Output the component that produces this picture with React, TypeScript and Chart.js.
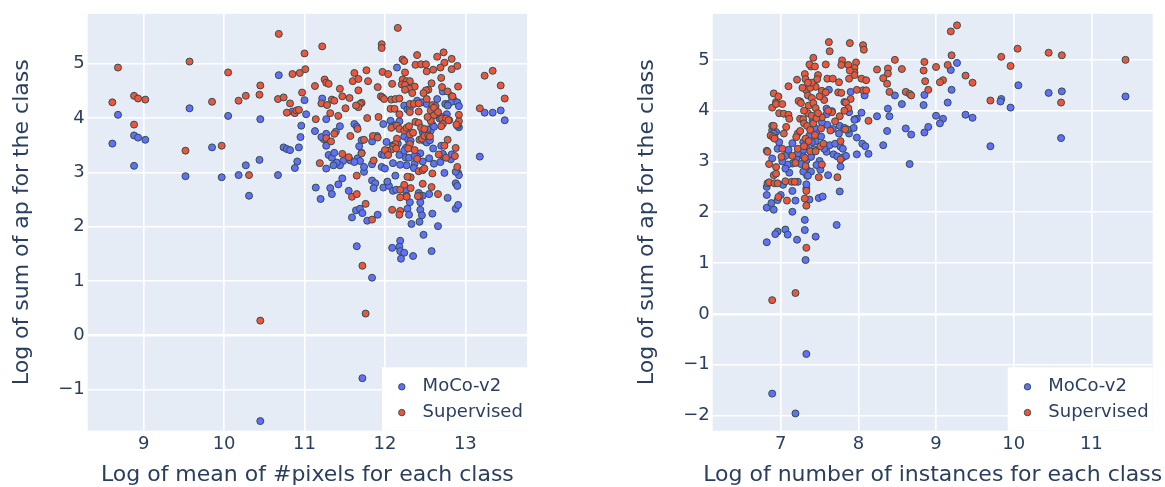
import React, { useEffect, useRef } from 'react';
import { Chart, registerables } from 'chart.js';
Chart.register(...registerables);

const FONT = "'DejaVu Sans', Verdana, sans-serif";
const TEXT = '#2a3f5f';
const BLUE = '#636efa';
const RED = '#ef553b';
const EDGE = '#2f4f4f';
const BG = '#e5ecf6';

const seriesNames = ['MoCo-v2', 'Supervised'];
const pixelXTicks = [9, 10, 11, 12, 13];
const pixelYTicks = [-1, 0, 1, 2, 3, 4, 5];
const instXTicks = [7, 8, 9, 10, 11];
const instYTicks = [-2, -1, 0, 1, 2, 3, 4, 5];
const pixelXTitle = 'Log of mean of #pixels for each class';
const instXTitle = 'Log of number of instances for each class';
const yTitle = 'Log of sum of ap for the class';

// left panel: [log mean #pixels, log sum ap]
const pixelsMoco: number[][] = [
  [8.61,3.53],[8.68,4.06],[8.88,3.68],[8.93,3.64],[9.02,3.60],[8.88,3.12],[9.57,4.18],[9.52,2.93],[9.85,3.46],[9.97,2.91],
  [10.05,4.04],[10.18,2.95],[10.27,3.13],[10.31,2.57],[10.45,3.98],[10.44,3.23],[10.68,4.79],[10.67,2.95],[11.0,4.33],[11.02,4.07],
  [10.85,4.12],[10.96,3.86],[10.95,3.65],[10.74,3.46],[10.78,3.43],[10.82,3.41],[10.93,3.46],[10.91,3.20],[10.88,3.08],[11.13,3.76],
  [11.14,2.72],[10.45,-1.58],
  [11.22,4.36],[11.20,2.51],[11.32,2.71],[11.34,2.60],[11.42,2.78],[11.47,2.89],[11.55,2.66],[11.59,2.17],[11.64,2.30],[11.69,2.33],
  [11.72,2.25],[11.78,2.11],[11.91,2.22],[11.84,2.85],[11.88,2.80],[11.86,2.71],[11.96,3.10],[12.0,3.07],[11.98,2.72],[12.05,2.75],
  [12.03,2.83],[12.13,2.94],[12.10,2.66],[12.14,2.68],[12.26,2.66],[12.27,2.57],[12.31,2.45],[12.28,2.33],[12.30,2.22],[12.44,2.45],
  [12.42,2.62],[12.47,2.57],[12.44,2.31],[12.46,2.21],[12.59,2.24],[12.55,2.60],[12.78,2.53],[12.88,2.80],[12.90,2.75],[12.91,2.99],
  [12.92,2.95],[12.88,3.01],[12.74,2.99],[12.61,3.16],[12.69,3.19],[12.72,3.33],[12.73,3.29],[12.47,3.20],[12.37,3.16],[12.36,3.08],
  [12.26,3.27],[12.30,3.27],[12.27,3.13],[12.19,3.14],[12.10,3.17],[12.18,3.32],[11.96,3.33],[11.84,3.15],[11.74,3.01],[11.74,3.10],
  [11.66,3.26],[11.69,3.21],[11.57,3.22],[11.62,3.19],[11.48,3.21],[11.44,3.13],[11.40,3.18],[11.36,3.13],[11.30,3.32],[11.34,3.27],
  [11.37,3.36],[11.27,3.07],[11.27,3.49],[11.24,3.61],[11.21,3.65],[11.27,3.71],[11.39,3.75],[11.44,3.85],[11.27,3.98],[11.62,3.89],
  [11.65,3.84],[11.71,3.59],[11.68,3.48],[11.71,3.36],[11.84,3.57],[11.90,3.67],[11.98,3.89],[12.07,3.95],[12.09,3.85],[12.13,3.87],
  [12.18,3.94],[12.24,3.66],[12.29,3.60],[12.32,3.58],[12.30,3.50],[12.26,3.45],[12.24,3.40],[12.16,3.53],[12.10,3.50],[12.02,3.56],
  [11.99,3.32],[12.49,3.58],[12.52,3.55],[12.56,3.59],[12.44,3.35],[12.40,3.29],[12.37,3.30],[12.54,3.73],[12.57,3.77],[12.60,3.44],
  [12.70,3.49],[12.55,3.26],[12.72,3.34],[12.82,3.24],[12.83,3.33],[12.24,4.23],[12.28,4.16],[12.31,4.18],[12.40,4.32],[12.46,4.29],
  [12.52,4.26],[12.65,4.35],[12.72,4.49],[12.75,4.26],[12.79,4.26],[12.83,4.40],[12.85,4.34],[12.83,4.30],[12.90,4.29],[12.92,4.22],
  [12.77,4.07],[12.80,3.96],[12.92,3.83],[12.90,3.86],[12.78,4.23],[12.71,4.02],[12.68,3.99],[12.62,4.05],[12.59,3.88],[12.61,3.84],
  [12.47,3.74],[12.53,3.79],[12.50,3.71],[12.15,4.93],[13.24,4.10],[13.34,4.10],[13.44,4.14],[13.49,3.96],[13.18,3.29],
  [12.43,2.09],[12.33,2.05],[12.66,2.01],[12.88,2.33],[12.91,2.40],[11.65,1.64],[12.09,1.61],[12.19,1.74],[12.18,1.63],[12.19,1.55],
  [12.24,1.52],[12.20,1.41],[12.35,1.46],[12.48,1.85],[12.58,1.55],[11.84,1.06],[11.72,-0.79],
];

const pixelsSup: number[][] = [
  [8.61,4.29],[8.68,4.93],[8.88,4.41],[8.93,4.36],[9.02,4.34],[8.88,3.88],[9.57,5.04],[9.52,3.40],[9.85,4.30],[9.97,3.49],
  [10.05,4.84],[10.18,4.32],[10.27,4.41],[10.31,2.95],[10.45,4.60],[10.44,4.43],[10.68,5.55],[10.67,4.35],[10.74,4.38],[10.82,4.27],
  [10.78,4.10],[10.85,4.81],[10.94,4.83],[11.01,4.90],[11.0,5.19],[10.97,4.47],[10.88,4.09],[10.90,4.14],[10.93,4.15],[11.13,4.59],
  [11.14,3.98],[11.19,3.17],[10.45,0.27],
  [11.22,5.32],[12.16,5.66],[11.96,5.36],[11.96,5.29],[12.40,5.16],[12.22,5.08],[12.24,5.05],[12.65,5.13],[12.73,5.21],[12.83,5.09],
  [12.74,5.02],[12.90,4.96],[12.83,4.90],[12.38,4.98],[12.45,4.99],[12.51,4.99],[12.52,4.86],[12.60,4.89],[12.69,4.93],[12.25,4.84],
  [11.77,4.88],[11.62,4.83],[11.97,4.85],[12.04,4.81],[11.60,4.68],[11.67,4.72],[11.79,4.68],[12.09,4.63],[12.22,4.71],[12.27,4.68],
  [12.31,4.68],[12.21,4.62],[12.25,4.61],[12.37,4.58],[12.30,4.54],[12.25,4.52],[12.34,4.46],[12.58,4.64],[12.54,4.52],[12.51,4.51],
  [12.48,4.46],[12.70,4.74],[12.71,4.57],[12.78,4.49],[12.84,4.40],[12.91,4.58],[11.25,4.71],[11.27,4.65],[11.30,4.63],[11.44,4.54],
  [11.67,4.51],[11.91,4.57],[11.47,4.40],[11.56,4.37],[11.34,4.34],[11.37,4.32],[11.21,4.27],[11.28,4.24],[11.95,4.40],[11.97,4.38],
  [11.99,4.35],[12.08,4.34],[12.13,4.35],[12.18,4.36],[12.31,4.26],[12.36,4.26],[12.42,4.27],[12.52,4.35],[12.59,4.24],[12.63,4.22],
  [11.71,4.28],[11.69,4.26],[11.67,4.20],[11.64,4.23],[11.51,4.18],[11.32,4.09],[11.42,4.04],[11.78,4.00],[11.92,4.02],[12.07,4.17],
  [12.12,4.17],[12.18,4.07],[12.31,4.11],[12.42,4.12],[12.57,4.14],[12.61,4.19],[12.61,4.05],[12.66,4.11],[12.57,3.95],[12.53,4.02],
  [12.71,3.99],[12.76,3.99],[12.92,4.06],[12.92,3.94],[12.89,3.88],[12.79,3.96],[12.72,3.89],[12.70,3.85],[12.08,3.82],[12.15,3.86],
  [12.18,3.80],[12.24,3.77],[12.27,3.82],[12.30,3.85],[12.38,3.93],[12.42,3.91],[12.45,3.82],[12.49,3.80],[11.57,3.67],[11.66,3.80],
  [11.27,3.63],[11.33,3.57],[11.37,3.71],[11.74,3.60],[11.85,3.67],[11.91,3.64],[12.15,3.62],[12.31,3.70],[12.35,3.73],[12.31,3.52],
  [12.29,3.44],[12.13,3.52],[12.10,3.47],[12.08,3.42],[12.03,3.40],[12.0,3.41],[12.04,3.32],[12.14,3.44],[12.37,3.41],[12.43,3.60],
  [12.46,3.62],[12.49,3.67],[12.54,3.68],[12.56,3.66],[12.78,3.60],[12.74,3.49],[12.88,3.45],[12.87,3.30],[12.76,3.27],[12.67,3.33],
  [11.47,3.34],[11.55,3.28],[11.71,3.35],[11.86,3.22],[12.40,3.25],[12.32,2.91],[12.28,2.92],[12.42,3.02],[12.47,3.04],[12.49,3.07],
  [12.59,2.98],[12.90,3.10],[11.65,2.94],[12.47,2.79],[12.58,2.73],[12.19,2.68],[12.24,2.77],[12.32,2.71],[12.27,2.55],[12.19,2.54],
  [12.43,2.57],[12.41,2.56],[12.66,2.60],[11.59,2.55],[11.65,2.60],[11.76,2.42],[12.09,2.31],[12.19,2.29],[12.18,2.22],[11.84,2.13],
  [11.72,1.28],[11.76,0.40],[13.24,4.78],[13.34,4.87],[13.44,4.60],[13.49,4.36],[13.18,4.18],
];

// right panel: [log number of instances, log sum ap]
const instMoco: number[][] = [
  [11.44,4.28],[10.62,4.38],[10.61,3.46],[10.45,4.35],[10.06,4.50],[9.96,4.06],[9.84,4.23],[9.83,4.18],[9.70,3.30],[9.38,3.92],
  [9.47,3.86],[9.27,4.94],[9.19,4.80],[9.20,4.41],[9.15,4.16],[9.0,3.90],[9.09,3.84],[9.05,3.75],[8.85,4.31],[8.84,4.11],
  [8.85,3.57],[8.90,3.68],[8.61,3.65],[8.68,3.53],[8.66,2.95],[8.47,4.30],[8.56,4.13],[8.24,3.89],[8.38,4.04],[8.40,3.89],
  [8.37,3.60],[8.32,3.32],[8.13,3.15],[8.08,4.30],[8.04,3.96],[7.98,3.84],[7.95,3.83],[8.05,3.35],[8.09,3.30],[7.98,3.14],
  [6.82,1.41],[6.89,-1.57],[7.19,-1.96],[7.33,-0.79],[7.32,1.06],[7.31,1.65],[7.31,1.85],[7.45,1.52],[6.96,1.62],[6.93,1.57],
  [7.06,1.66],[7.09,1.56],[7.21,1.46],[7.15,2.01],[6.91,2.05],[6.82,2.09],[6.88,2.18],[6.96,2.24],[7.0,2.34],[6.82,2.34],
  [6.82,2.50],[7.19,2.23],[7.15,2.42],[7.22,2.60],[7.37,2.25],[7.49,2.28],[7.54,2.31],[7.33,2.47],[7.33,2.55],[7.34,2.72],
  [7.34,2.83],[7.76,2.41],[7.72,1.75],[7.61,2.73],[7.77,2.90],[7.51,2.84],[7.59,3.19],[7.68,3.14],[7.73,3.10],[7.80,3.08],
  [7.84,3.11],[7.77,3.29],[7.80,3.25],[7.63,3.32],[7.56,3.25],[7.88,3.55],[7.94,3.66],[7.95,3.82],[7.98,3.47],[7.88,3.97],
  [7.82,4.17],[7.90,4.37],[7.76,3.70],[7.75,3.55],[7.62,4.41],[7.59,4.04],[7.60,3.72],[7.46,3.60],[7.52,3.49],[7.45,3.40],
  [7.43,3.24],[7.40,3.16],[7.50,3.01],[7.46,2.93],[7.39,2.80],[7.29,2.80],[7.35,2.72],[7.33,3.02],[7.26,2.95],[7.20,3.06],
  [7.15,2.96],[7.09,2.94],[7.11,2.78],[7.06,2.86],[7.06,3.11],[7.02,3.0],[6.96,3.25],[6.98,3.38],[6.92,3.48],[6.94,3.58],
  [6.89,3.61],[6.91,3.55],[6.89,3.06],[7.03,2.54],[7.25,4.18],[7.37,3.51],[7.40,3.38],[7.44,3.66],[7.41,3.81],[7.53,3.77],
  [7.59,3.93],[7.66,3.99],[7.82,3.66],[7.86,3.63],[7.67,3.64],[7.70,3.35],[7.29,3.38],[7.34,3.25],[7.29,3.22],[7.39,3.09],
  [7.29,3.10],[7.15,3.36],[7.22,3.16],[7.10,3.23],
];

const instSup: number[][] = [
  [11.44,5.0],[10.62,5.09],[10.61,4.16],[10.45,5.14],[10.05,5.22],[9.96,4.88],[9.84,5.06],[9.70,4.20],[9.38,4.69],[9.47,4.55],
  [9.27,5.68],[9.19,5.56],[9.20,5.09],[9.15,4.90],[9.09,4.60],[9.05,4.56],[9.0,4.86],[8.85,4.96],[8.84,4.79],[8.86,4.58],
  [8.90,4.41],[8.61,4.37],[8.66,4.33],[8.68,4.30],[8.47,5.0],[8.56,4.82],[8.24,4.81],[8.38,4.83],[8.38,4.73],[8.37,4.53],
  [8.40,4.37],[8.32,4.64],[8.06,5.29],[8.07,5.20],[7.97,4.95],[7.95,4.84],[7.95,4.75],[7.95,4.70],[8.04,4.63],[8.10,4.60],
  [8.06,4.40],[8.10,4.40],[7.98,4.41],[8.13,3.80],[7.89,5.33],[7.62,5.35],[7.63,5.17],[7.58,4.91],[7.79,4.99],[7.78,4.90],
  [7.87,4.90],[7.89,4.79],[7.88,4.63],[7.60,4.63],[7.67,4.63],[7.75,4.56],[7.74,4.36],[7.78,4.35],[7.90,4.23],[7.84,4.16],
  [7.87,4.05],[7.82,4.0],[7.76,3.89],[7.70,3.79],[7.66,3.97],[7.61,4.0],[7.83,3.63],[7.77,3.40],[7.77,3.04],[7.73,2.69],
  [7.64,3.61],[7.53,3.87],[7.56,4.21],[7.53,4.39],[7.58,4.36],[7.51,3.30],[7.53,2.94],[7.49,2.69],[7.48,4.70],[7.47,4.62],
  [7.45,4.47],[7.42,5.04],[7.39,4.87],[7.37,4.91],[7.44,4.87],[7.31,4.72],[7.32,4.62],[7.21,4.61],[7.10,4.48],[7.23,4.19],
  [7.26,4.15],[7.25,3.84],[7.29,3.83],[7.22,3.55],[7.20,3.48],[7.22,3.25],[7.15,3.11],[7.19,2.97],[7.14,2.60],[7.18,2.60],
  [7.08,2.23],[6.91,4.34],[6.94,4.17],[6.97,4.28],[6.89,4.06],[6.94,4.13],[7.02,4.13],[6.98,3.95],[7.04,3.94],[7.10,3.92],
  [7.11,3.84],[6.89,3.70],[6.91,3.70],[7.07,3.68],[7.04,3.55],[6.87,3.51],[6.90,3.48],[6.92,3.45],[6.82,3.21],[6.83,3.19],
  [6.85,2.95],[6.94,2.89],[6.91,2.73],[6.94,2.76],[6.83,2.57],[6.85,2.59],[6.92,2.57],[6.96,2.57],[7.01,3.09],[7.02,3.25],
  [7.06,2.61],[6.97,2.30],[6.89,0.27],[7.19,0.41],[7.33,1.30],[7.31,2.27],[7.33,2.13],[7.33,2.42],[7.32,2.91],[7.31,3.07],
  [7.33,4.40],[7.35,4.30],[7.38,4.45],[7.40,4.25],[7.36,4.10],[7.42,4.15],[7.45,4.05],[7.35,3.95],[7.40,3.90],[7.30,3.75],
  [7.34,3.70],[7.38,3.62],[7.42,3.75],[7.46,3.85],[7.32,3.45],[7.36,3.40],[7.30,3.30],[7.44,3.52],[7.48,3.95],[7.50,4.28],
  [7.52,3.65],[7.40,4.55],[7.35,4.55],[7.28,4.45],[7.30,4.00],[7.25,3.60],[7.38,3.20],[7.45,3.20],[7.55,3.35],
];

const fmt = (v: number | string) => {
  const n = Number(v);
  return n < 0 ? '\u2212' + Math.abs(n) : String(n);
};

type Geo = {
  canvasLeft: number; width: number;
  xMin: number; xMax: number; yMin: number; yMax: number;
  yScaleWidth: number; padRight: number; yTitlePad: number;
};

function makeOverlay(xTitle: string) {
  return {
    id: 'overlay',
    beforeDraw(chart: any) {
      const { ctx, chartArea: a } = chart;
      ctx.save();
      ctx.fillStyle = BG;
      ctx.fillRect(a.left, a.top, a.right - a.left, a.bottom - a.top);
      ctx.restore();
    },
    afterDraw(chart: any) {
      const { ctx, chartArea: a } = chart;
      ctx.save();
      // legend box
      const bx = a.right - 145;
      const by = 367.3;
      ctx.fillStyle = '#ffffff';
      ctx.fillRect(bx, by, a.right - bx, a.bottom - by);
      const cols = [BLUE, RED];
      chart.data.datasets.forEach((ds: any, i: number) => {
        const cy = by + 19.5 + i * 25.8;
        ctx.beginPath();
        ctx.arc(bx + 19.8, cy, 3.2, 0, Math.PI * 2);
        ctx.fillStyle = cols[i];
        ctx.fill();
        ctx.lineWidth = 1;
        ctx.strokeStyle = EDGE;
        ctx.stroke();
        ctx.fillStyle = TEXT;
        ctx.font = `18px ${FONT}`;
        ctx.textAlign = 'left';
        ctx.textBaseline = 'middle';
        ctx.fillText(ds.label, bx + 40.6, cy);
      });
      // x axis title
      ctx.fillStyle = TEXT;
      ctx.font = `22px ${FONT}`;
      ctx.textAlign = 'center';
      ctx.textBaseline = 'middle';
      ctx.fillText(xTitle, (a.left + a.right) / 2, 475.7);
      ctx.restore();
    },
  };
}

function Panel(props: { geo: Geo; moco: number[][]; sup: number[][]; xTicks: number[]; yTicks: number[]; xTitle: string }) {
  const { geo, moco, sup, xTicks, yTicks, xTitle } = props;
  const ref = useRef<HTMLCanvasElement>(null);
  useEffect(() => {
    const gridWidth = (c: any) => (c.tick && c.tick.value === 0 ? 2.6 : 1.6);
    const chart = new Chart(ref.current as HTMLCanvasElement, {
      type: 'scatter',
      data: {
        datasets: [
          {
            label: seriesNames[0],
            data: moco.map(([x, y]) => ({ x, y })),
            backgroundColor: BLUE, borderColor: EDGE, borderWidth: 1, pointRadius: 3.5, order: 1,
          },
          {
            label: seriesNames[1],
            data: sup.map(([x, y]) => ({ x, y })),
            backgroundColor: RED, borderColor: EDGE, borderWidth: 1, pointRadius: 3.5, order: 0,
          },
        ],
      },
      options: {
        responsive: false,
        animation: false,
        events: [],
        layout: { padding: { left: 0, top: 11, right: geo.padRight, bottom: 0 } },
        plugins: { legend: { display: false }, tooltip: { enabled: false } },
        scales: {
          x: {
            type: 'linear', position: 'bottom', min: geo.xMin, max: geo.xMax,
            afterFit: (s: any) => { s.height = 56.3; },
            afterBuildTicks: (s: any) => { s.ticks = xTicks.map((v) => ({ value: v })); },
            grid: { color: '#ffffff', lineWidth: gridWidth, drawTicks: false },
            border: { display: false },
            ticks: { color: TEXT, font: { family: FONT, size: 18 }, padding: 3, autoSkip: false, maxRotation: 0, callback: fmt },
          },
          y: {
            type: 'linear', position: 'left', min: geo.yMin, max: geo.yMax,
            afterFit: (s: any) => { s.width = geo.yScaleWidth; },
            afterBuildTicks: (s: any) => { s.ticks = yTicks.map((v) => ({ value: v })); },
            grid: { color: '#ffffff', lineWidth: gridWidth, drawTicks: false },
            border: { display: false },
            ticks: { color: TEXT, font: { family: FONT, size: 18 }, padding: 3, autoSkip: false, callback: fmt },
            title: {
              display: true, text: yTitle, color: TEXT,
              font: { family: FONT, size: 22, lineHeight: 1 },
              padding: { top: geo.yTitlePad, bottom: 0 },
            },
          },
        },
      } as any,
      plugins: [makeOverlay(xTitle)],
    });
    return () => chart.destroy();
  }, []);
  return (
    <canvas
      ref={ref}
      width={geo.width}
      height={487}
      style={{ position: 'absolute', left: geo.canvasLeft, top: 0, width: geo.width, height: 487 }}
    />
  );
}

const leftGeo: Geo = {
  canvasLeft: 0, width: 580, xMin: 8.3035, xMax: 13.767, yMin: -1.757, yMax: 5.92,
  yScaleWidth: 87.7, padRight: 53, yTitlePad: 11.4,
};
const rightGeo: Geo = {
  canvasLeft: 624, width: 541, xMin: 6.124, xMax: 11.79, yMin: -2.30, yMax: 5.907,
  yScaleWidth: 88.7, padRight: 12.3, yTitlePad: 12.7,
};

export default function App() {
  return (
    <div style={{ position: 'fixed', left: 0, top: 0, width: 1165, height: 487, background: '#ffffff' }}>
      <Panel geo={leftGeo} moco={pixelsMoco} sup={pixelsSup} xTicks={pixelXTicks} yTicks={pixelYTicks} xTitle={pixelXTitle} />
      <Panel geo={rightGeo} moco={instMoco} sup={instSup} xTicks={instXTicks} yTicks={instYTicks} xTitle={instXTitle} />
    </div>
  );
}
